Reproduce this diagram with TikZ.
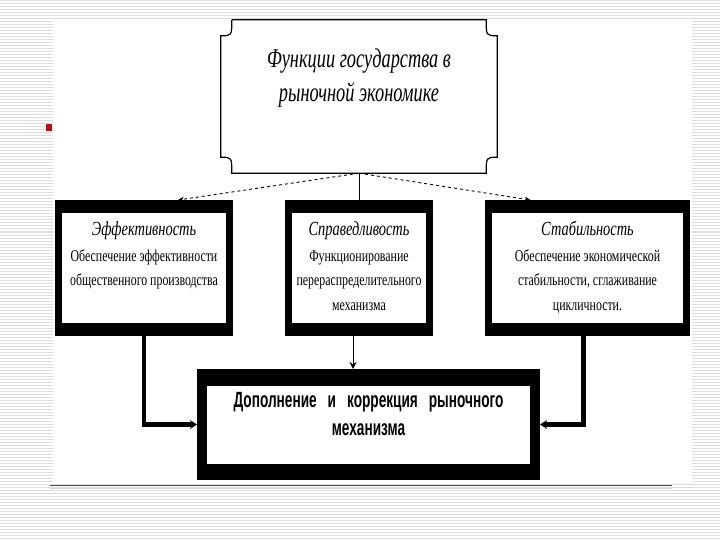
\documentclass[tikz,border=0pt]{standalone}
\usepackage{fontspec}
\setmainfont{Liberation Serif}
\newfontfamily\condserif[FakeStretch=0.72]{Liberation Serif}
\newfontfamily\tallserif[FakeStretch=0.68]{Liberation Serif}
\newfontfamily\condsans[FakeStretch=0.62]{Liberation Sans}
\usetikzlibrary{arrows.meta,positioning,calc}
\definecolor{stripe}{HTML}{DCDCDC}
\definecolor{bullet}{HTML}{B01414}
\definecolor{rulered}{HTML}{A02424}

\begin{document}
\begin{tikzpicture}[x=1pt,y=-1pt,
    frame/.style={fill=black,inner sep=0pt,outer sep=0pt},
    inbox/.style={fill=white,inner sep=0pt},
    hd/.style={inner sep=0pt,anchor=base,font=\condserif\itshape\fontsize{20}{22}\selectfont},
    txt/.style={align=center,inner sep=0pt,anchor=north,font=\condserif\fontsize{16.5}{24.5}\selectfont},
    dsh/.style={dashed,line width=0.9pt,-{Stealth[length=6pt,width=5pt]}},
    fat/.style={line width=4.5pt,-{Stealth[length=7pt,width=9pt]}}]
  \useasboundingbox (0,0) rectangle (720,540);
  \fill[white] (0,0) rectangle (720,540);
  \foreach \y in {1,4,...,539}{\draw[stripe,line width=1pt] (0,\y) -- (720,\y);}
  \fill[white] (53,20) rectangle (692,483);
  \draw[rulered,line width=1.2pt] (50,485.5) -- (672,485.5);
  \draw[gray!35,line width=0.8pt] (50,488.5) -- (672,488.5);
  \fill[bullet] (46,124) rectangle (52,131);

  \node[minimum width=276pt,minimum height=153pt,inner sep=0pt] (fn) at (359,96.5){};
  \draw[line width=1.2pt] ([xshift=11pt]fn.north west) -- ([xshift=-11pt]fn.north east)
    .. controls ($(fn.north east)+(-11,16)$) .. ([yshift=-16pt]fn.north east)
    -- ([yshift=16pt]fn.south east)
    .. controls ($(fn.south east)+(-11,-16)$) .. ([xshift=-11pt]fn.south east)
    -- ([xshift=11pt]fn.south west)
    .. controls ($(fn.south west)+(11,-16)$) .. ([yshift=16pt]fn.south west)
    -- ([yshift=-16pt]fn.north west)
    .. controls ($(fn.north west)+(11,16)$) .. ([xshift=11pt]fn.north west);
  \node[align=center,font=\tallserif\itshape\fontsize{27}{34}\selectfont] at ([yshift=18pt]fn.center)
    {Функции государства в\\рыночной экономике};

  \foreach \n/\cx/\w in {eff/144/178,spr/359/148,stab/587.5/205}{
    \node[frame,minimum width=\w pt,minimum height=136pt] (\n) at (\cx,268){};
    \node[inbox,minimum width=\w pt-14pt,minimum height=110pt] at (\n.center){};}
  \node[hd] at ([yshift=-36pt]eff.north){Эффективность};
  \node[txt] at ([yshift=-44pt]eff.north){\strut Обеспечение эффективности\\общественного производства};
  \node[hd] at ([yshift=-36pt]spr.north){Справедливость};
  \node[txt] at ([yshift=-44pt]spr.north){\strut Функционирование\\перераспределительного\\механизма};
  \node[hd] at ([yshift=-36pt]stab.north){Стабильность};
  \node[txt] at ([yshift=-44pt]stab.north){\strut Обеспечение экономической\\стабильности, сглаживание\\цикличности.};

  \node[frame,minimum width=343pt,minimum height=111pt] (corr) at (368.5,424.5){};
  \node[inbox,minimum width=323pt,minimum height=78pt] at (corr.center){};
  \node[align=center,font=\condsans\bfseries\fontsize{22}{28}\selectfont] at ([yshift=10pt]corr.center)
    {Дополнение\enspace и\enspace коррекция\enspace рыночного\\механизма};

  \draw[dsh] (fn.south) -- ([xshift=34pt]eff.north);
  \draw[dsh] (fn.south) -- ([xshift=-57pt]stab.north);
  \draw[line width=0.9pt] (fn.south) -- (fn.south |- spr.north);
  \draw[line width=0.9pt,-{Stealth[length=7pt,width=7pt]}] ([xshift=-6pt]spr.south) -- ([xshift=-6pt]spr.south |- corr.north);
  \draw[fat] (eff.south) |- (corr.west);
  \draw[fat] ([xshift=-4pt]stab.south) |- (corr.east);
\end{tikzpicture}
\end{document}
